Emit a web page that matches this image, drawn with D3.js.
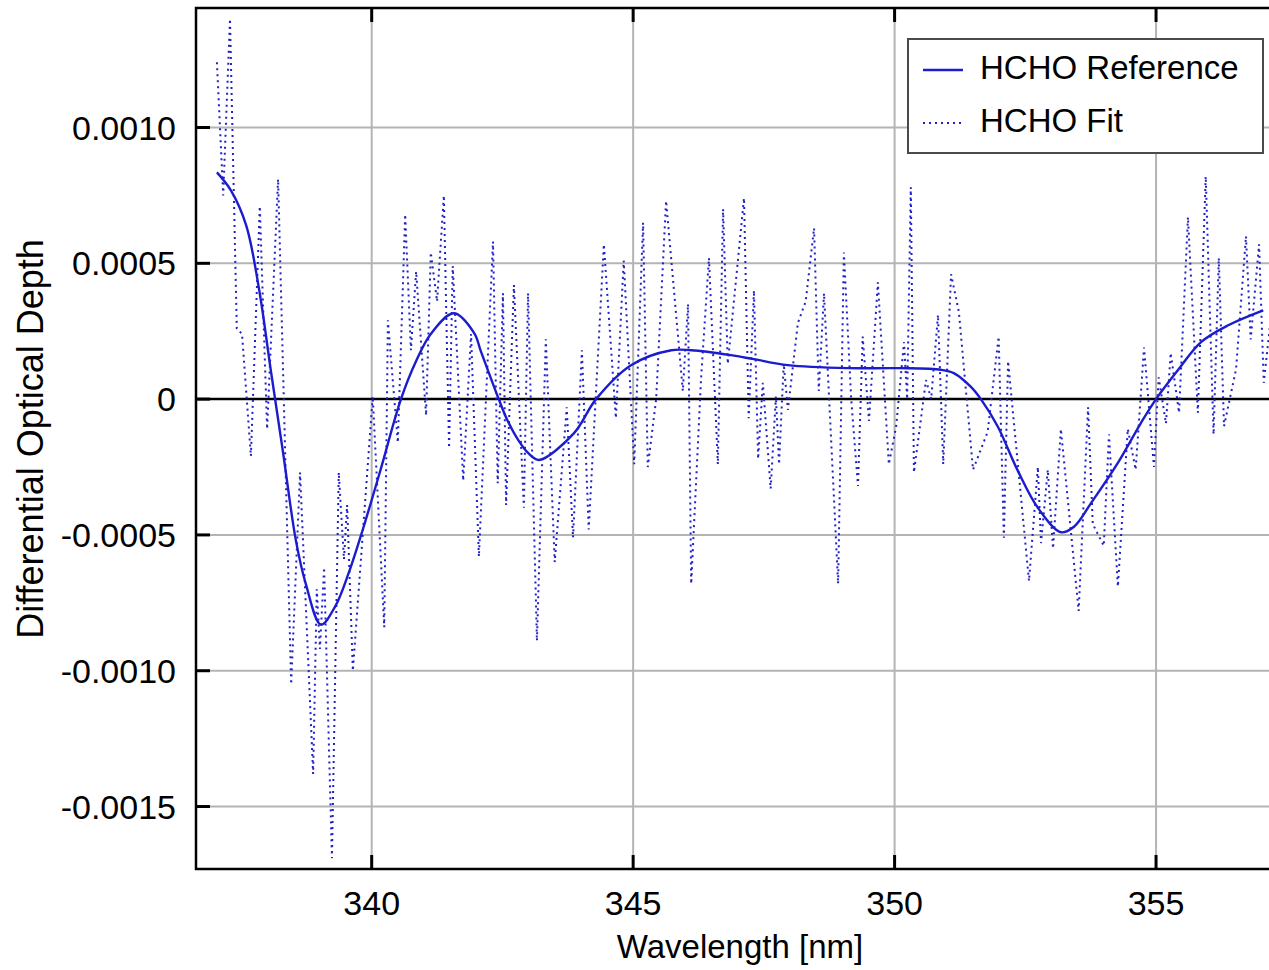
<!DOCTYPE html>
<html>
<head>
<meta charset="utf-8">
<script src="https://cdn.jsdelivr.net/npm/d3@7"></script>
<style>
  body { margin: 0; background: #fff; }
  svg { display: block; font-family: "Liberation Sans", Arial, sans-serif; }
</style>
</head>
<body>
<div id="chart"></div>
<script>
// HCHO reference cross section (smooth curve)
var refWavelength = [337.04, 337.31, 337.6, 337.85, 338.07, 338.3, 338.55, 338.74, 339.03, 339.31, 339.56, 339.83,
    340.17, 340.56, 340.85, 341.13, 341.57, 341.96, 342.09, 342.43, 342.6, 342.8, 343.0, 343.2, 343.87, 344.29,
    344.96, 345.73, 346.11, 346.87, 347.31, 347.96, 349.11, 350.07, 350.89, 351.14, 351.46, 351.65, 351.97,
    352.36, 352.74, 353.18, 353.43, 353.76, 354.27, 354.71, 355.0, 355.42, 355.86, 356.38, 357.05];
var refValue = [0.000835, 0.000768, 0.00064, 0.0004, 0.000107, -0.00019, -0.00052, -0.00068, -0.00083, -0.00076,
    -0.00064, -0.00048, -0.00026, 0, 0.00014, 0.00024, 0.000316, 0.000243, 0.000175, 0, -0.00008, -0.00015,
    -0.0002, -0.000224, -0.000125, 0, 0.000125, 0.00018, 0.00018, 0.000162, 0.000147, 0.000125, 0.000114,
    0.000114, 0.000108, 0.000095, 0.000045, 0, -0.0001, -0.000265, -0.0004, -0.00049, -0.00047, -0.000382,
    -0.000235, -0.000088, 0, 0.000107, 0.00021, 0.000272, 0.000327];

// HCHO fit (noisy, dotted)
var fitWavelength = [337.04, 337.16, 337.29, 337.42, 337.52, 337.69, 337.86, 338.0, 338.21, 338.46, 338.63,
    338.88, 338.95, 339.01, 339.09, 339.24, 339.37, 339.47, 339.53, 339.64, 340.02, 340.24, 340.31, 340.5,
    340.64, 340.75, 340.85, 341.04, 341.13, 341.25, 341.38, 341.48, 341.55, 341.75, 341.9, 342.05, 342.32,
    342.41, 342.51, 342.57, 342.72, 342.91, 342.99, 343.16, 343.33, 343.5, 343.73, 343.85, 344.02, 344.15,
    344.44, 344.67, 344.82, 345.02, 345.19, 345.28, 345.44, 345.63, 345.95, 346.05, 346.11, 346.3, 346.45,
    346.62, 346.72, 346.81, 347.12, 347.21, 347.31, 347.39, 347.48, 347.63, 347.73, 347.79, 347.88, 347.96,
    348.15, 348.3, 348.46, 348.55, 348.65, 348.92, 349.03, 349.17, 349.3, 349.39, 349.51, 349.68, 349.89,
    350.03, 350.18, 350.24, 350.31, 350.37, 350.6, 350.7, 350.83, 350.93, 351.08, 351.23, 351.5, 351.78,
    351.99, 352.09, 352.17, 352.57, 352.74, 352.8, 352.93, 353.03, 353.18, 353.52, 353.7, 353.79, 354.0,
    354.1, 354.27, 354.46, 354.61, 354.77, 354.96, 355.05, 355.19, 355.28, 355.44, 355.61, 355.8, 355.95,
    356.1, 356.2, 356.3, 356.53, 356.72, 356.81, 356.97, 357.06, 357.23];
var fitValue = [0.00124, 0.00075, 0.0014, 0.00026, 0.00024, -0.00021, 0.00071, -0.00011, 0.00081, -0.00105,
    -0.00027, -0.00138, -0.0007, -0.00092, -0.00062, -0.00169, -0.00027, -0.00059, -0.00039, -0.001, 0.00001,
    -0.00084, 0.00029, -0.00016, 0.00068, 0.00018, 0.00047, -0.00006, 0.00054, 0.00036, 0.00075, -0.00018,
    0.00049, -0.0003, 0.00024, -0.00058, 0.00058, -0.00031, 0.00039, -0.00039, 0.00042, -0.0004, 0.00039,
    -0.00089, 0.00022, -0.0006, -0.00003, -0.00051, 0.00018, -0.00048, 0.00057, -0.00007, 0.00051, -0.00024,
    0.00065, -0.00025, 0, 0.00073, 0.00003, 0.00035, -0.00068, 0.00008, 0.00052, -0.00024, 0.0007, 0.00013,
    0.00074, -0.00007, 0.0004, -0.00022, 0.00006, -0.00033, 0.00001, -0.00024, 0.00013, -0.00004, 0.00028,
    0.00036, 0.00063, 0.00003, 0.00039, -0.00068, 0.00054, 0, -0.00032, 0.00023, -0.00008, 0.00043, -0.00024,
    -0.0001, 0.00021, 0, 0.00078, -0.00027, 0.00007, 0, 0.00031, -0.00024, 0.00046, 0.00032, -0.00026,
    -0.00012, 0.00023, -0.00051, 0.00014, -0.00067, -0.00025, -0.00053, -0.00026, -0.00055, -0.00011,
    -0.00078, -0.00003, -0.00046, -0.00054, -0.00013, -0.00069, -0.00011, -0.00026, 0.00019, -0.00025,
    0.00008, -0.00009, 0.00017, -0.00005, 0.00067, -0.00005, 0.00082, -0.00013, 0.00052, -0.0001, 0.00011,
    0.0006, 0.00022, 0.00057, 0.00006, 0.00036];

var xTicks = [340, 345, 350, 355];
var yTicks = [-0.0015, -0.0010, -0.0005, 0, 0.0005, 0.0010];
var yTickLabels = ['-0.0015', '-0.0010', '-0.0005', '0', '0.0005', '0.0010'];
var seriesNames = ['HCHO Reference', 'HCHO Fit'];

(function() {
    var width = 1269, height = 970;
    var pLeft = 196, pTop = 8, pBottom = 869;
    var pRight = 1292;   // the frame runs past the picture's right edge

    var refColor = '#1c1ccf', fitColor = '#2020c8';

    var x = d3.scaleLinear().domain([336.64, 357.6]).range([pLeft, pRight]);
    var y = d3.scaleLinear().domain([-0.00173, 0.00144]).range([pBottom, pTop]);

    var svg = d3.select('#chart').append('svg')
        .attr('width', width)
        .attr('height', height);

    svg.append('defs').append('clipPath').attr('id', 'plotclip')
        .append('rect')
        .attr('x', pLeft).attr('y', pTop)
        .attr('width', pRight - pLeft).attr('height', pBottom - pTop);

    // grid
    svg.append('g').selectAll('line').data(xTicks).enter().append('line')
        .attr('x1', function(d) { return x(d); })
        .attr('x2', function(d) { return x(d); })
        .attr('y1', pTop).attr('y2', pBottom)
        .attr('stroke', '#b4b4b4').attr('stroke-width', 2);
    svg.append('g').selectAll('line').data(yTicks.filter(function(d) { return d !== 0; })).enter().append('line')
        .attr('x1', pLeft).attr('x2', pRight)
        .attr('y1', function(d) { return y(d); })
        .attr('y2', function(d) { return y(d); })
        .attr('stroke', '#b4b4b4').attr('stroke-width', 2);

    // zero line
    svg.append('line')
        .attr('x1', pLeft).attr('x2', pRight)
        .attr('y1', y(0)).attr('y2', y(0))
        .attr('stroke', '#000').attr('stroke-width', 2.5);

    var refData = refWavelength.map(function(w, i) { return [w, refValue[i]]; });
    var fitData = fitWavelength.map(function(w, i) { return [w, fitValue[i]]; });

    var plot = svg.append('g').attr('clip-path', 'url(#plotclip)');

    plot.append('path')
        .datum(fitData)
        .attr('fill', 'none')
        .attr('stroke', fitColor)
        .attr('stroke-width', 2)
        .attr('stroke-dasharray', '2,4')
        .attr('d', d3.line()
            .x(function(d) { return x(d[0]); })
            .y(function(d) { return y(d[1]); }));

    plot.append('path')
        .datum(refData)
        .attr('fill', 'none')
        .attr('stroke', refColor)
        .attr('stroke-width', 2.4)
        .attr('d', d3.line()
            .curve(d3.curveCatmullRom.alpha(0.5))
            .x(function(d) { return x(d[0]); })
            .y(function(d) { return y(d[1]); }));

    // frame
    svg.append('path')
        .attr('d', 'M' + pRight + ',' + pTop + 'H' + pLeft + 'V' + pBottom + 'H' + pRight)
        .attr('fill', 'none')
        .attr('stroke', '#000')
        .attr('stroke-width', 2.5);

    // inward ticks, bottom / top / left
    var ticks = svg.append('g').attr('stroke', '#000').attr('stroke-width', 3);
    ticks.selectAll('.tb').data(xTicks).enter().append('line')
        .attr('x1', function(d) { return x(d); }).attr('x2', function(d) { return x(d); })
        .attr('y1', pBottom).attr('y2', pBottom - 14);
    ticks.selectAll('.tt').data(xTicks).enter().append('line')
        .attr('x1', function(d) { return x(d); }).attr('x2', function(d) { return x(d); })
        .attr('y1', pTop).attr('y2', pTop + 14);
    ticks.selectAll('.tl').data(yTicks).enter().append('line')
        .attr('x1', pLeft).attr('x2', pLeft + 14)
        .attr('y1', function(d) { return y(d); }).attr('y2', function(d) { return y(d); });

    // tick labels
    svg.append('g').selectAll('text').data(xTicks).enter().append('text')
        .attr('x', function(d) { return x(d); })
        .attr('y', 915)
        .attr('text-anchor', 'middle')
        .attr('font-size', 34)
        .attr('fill', '#000')
        .text(function(d) { return d; });
    svg.append('g').selectAll('text').data(yTicks).enter().append('text')
        .attr('x', 176)
        .attr('y', function(d) { return y(d) + 12; })
        .attr('text-anchor', 'end')
        .attr('font-size', 34)
        .attr('fill', '#000')
        .text(function(d, i) { return yTickLabels[i]; });

    // axis titles
    svg.append('text')
        .attr('x', 740).attr('y', 958)
        .attr('text-anchor', 'middle')
        .attr('font-size', 33)
        .text('Wavelength [nm]');
    svg.append('text')
        .attr('transform', 'translate(43,439) rotate(-90)')
        .attr('text-anchor', 'middle')
        .attr('font-size', 36)
        .text('Differential Optical Depth');

    // legend
    var legend = svg.append('g');
    legend.append('rect')
        .attr('x', 908).attr('y', 39)
        .attr('width', 355).attr('height', 114)
        .attr('fill', '#fff')
        .attr('stroke', '#4a4a4a')
        .attr('stroke-width', 2);
    legend.selectAll('line').data(seriesNames).enter().append('line')
        .attr('x1', 923).attr('x2', 963)
        .attr('y1', function(d, i) { return 70 + i * 53; })
        .attr('y2', function(d, i) { return 70 + i * 53; })
        .attr('stroke', function(d, i) { return i === 0 ? refColor : fitColor; })
        .attr('stroke-width', function(d, i) { return i === 0 ? 2.4 : 2; })
        .attr('stroke-dasharray', function(d, i) { return i === 0 ? null : '2,4'; });
    legend.selectAll('text').data(seriesNames).enter().append('text')
        .attr('x', 980)
        .attr('y', function(d, i) { return 79 + i * 53; })
        .attr('font-size', 33)
        .text(function(d) { return d; });
})();
</script>
</body>
</html>
